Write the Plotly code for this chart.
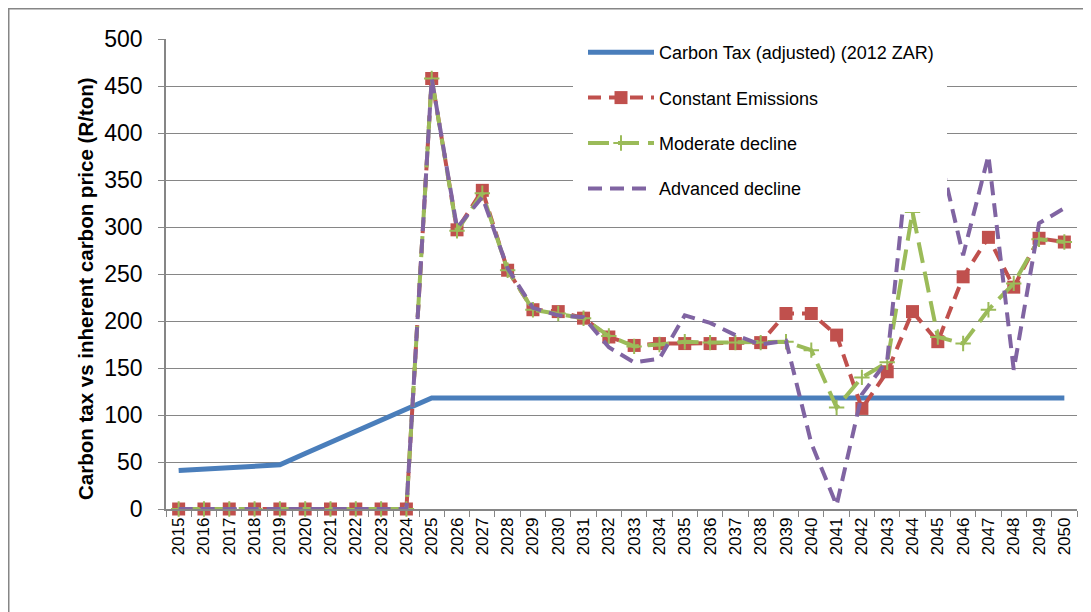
import plotly.graph_objects as go

years = ["2015", "2016", "2017", "2018", "2019", "2020", "2021", "2022", "2023", "2024",
         "2025", "2026", "2027", "2028", "2029", "2030", "2031", "2032", "2033", "2034",
         "2035", "2036", "2037", "2038", "2039", "2040", "2041", "2042", "2043", "2044",
         "2045", "2046", "2047", "2048", "2049", "2050"]

carbon_tax = [41, 42.5, 44, 45.5, 47, 59, 71, 83, 95, 107,
              118, 118, 118, 118, 118, 118, 118, 118, 118, 118,
              118, 118, 118, 118, 118, 118, 118, 118, 118, 118,
              118, 118, 118, 118, 118, 118]

constant_emissions = [0, 0, 0, 0, 0, 0, 0, 0, 0, 0,
                      458, 297, 339, 254, 212, 210, 203, 183, 174, 176,
                      176, 176, 176, 177, 208, 208, 185, 107, 146, 210,
                      178, 247, 289, 236, 288, 284]

moderate_decline = [0, 0, 0, 0, 0, 0, 0, 0, 0, 0,
                    458, 296, 336, 254, 212, 208, 203, 184, 173, 175,
                    178, 177, 177, 177, 178, 169, 108, 140, 156, 316,
                    183, 176, 212, 240, 287, 284]

advanced_decline = [0, 0, 0, 0, 0, 0, 0, 0, 0, 0,
                    458, 299, 332, 256, 214, 206, 204, 172, 156, 160,
                    206, 198, 185, 175, 179, 70, 4, 122, 158, 420,
                    385, 270, 376, 148, 304, 320]

y_ticks = [0, 50, 100, 150, 200, 250, 300, 350, 400, 450, 500]

FONT = "Liberation Sans"
# The page body adds an 8px offset; the figure is sized to fill the rest.
OX, OY = 8, 8
W, H = 1091 - OX, 612 - OY
# plot area in window pixels
L, R, T, B = 166, 1077, 39, 509

fig = go.Figure()

fig.add_trace(go.Scatter(
    x=years, y=carbon_tax, name="Carbon Tax (adjusted) (2012 ZAR)",
    mode="lines", line=dict(color="#4A7EBB", width=5),
    legendgroup="a", cliponaxis=False))

fig.add_trace(go.Scatter(
    x=years, y=constant_emissions, name="Constant Emissions",
    mode="lines+markers", line=dict(color="#C0504D", width=4, dash="13px,8px"),
    marker=dict(symbol="square", size=13, color="#C0504D"),
    legendgroup="b", cliponaxis=False))

fig.add_trace(go.Scatter(
    x=years, y=moderate_decline, name="Moderate decline",
    mode="lines+markers", line=dict(color="#9BBB59", width=4, dash="21px,9px"),
    marker=dict(symbol="cross-thin", size=11, color="#9BBB59",
                line=dict(color="#9BBB59", width=2)),
    legendgroup="c", cliponaxis=False))

fig.add_trace(go.Scatter(
    x=years, y=advanced_decline, name="Advanced decline",
    mode="lines", line=dict(color="#8064A2", width=4, dash="14px,8px"),
    legendgroup="d", cliponaxis=False))


def px(xp):
    return (xp - L) / (R - L)


def py(yp):
    return (B - yp) / (B - T)


fig.update_layout(
    width=W, height=H,
    margin=dict(l=L - OX, r=W + OX - R, t=T - OY, b=H + OY - B),
    paper_bgcolor="white", plot_bgcolor="white",
    font=dict(family=FONT, color="black"),
    showlegend=True,
    legend=dict(
        x=px(583), y=py(34), xanchor="left", yanchor="top",
        bgcolor="white", borderwidth=0,
        font=dict(family=FONT, size=18, color="black"),
        tracegroupgap=19, itemwidth=66,
        traceorder="grouped",
    ),
    xaxis=dict(
        type="category", range=[-0.5, 35.5],
        tickmode="array", tickvals=years, ticktext=years,
        tickangle=-90, tickson="boundaries",
        ticks="outside", ticklen=6, tickcolor="#868686",
        showline=True, linecolor="#868686", linewidth=1.5,
        showgrid=False, zeroline=False,
        tickfont=dict(family=FONT, size=17, color="black"),
    ),
    yaxis=dict(
        range=[0, 500], tickmode="array", tickvals=y_ticks,
        ticks="outside", ticklen=6, tickcolor="#868686",
        showline=True, linecolor="#868686", linewidth=1.5,
        showgrid=True, gridcolor="#868686", gridwidth=1,
        zeroline=False, ticklabelstandoff=11,
        tickfont=dict(family=FONT, size=23, color="black"),
    ),
    annotations=[dict(
        text="<b>Carbon tax vs inherent carbon price (R/ton)</b>",
        x=px(85), y=py(289), xref="paper", yref="paper",
        xanchor="center", yanchor="middle",
        textangle=-90, showarrow=False,
        font=dict(family=FONT, size=20.5, color="black"),
    )],
    shapes=[
        dict(
            type="rect", xref="paper", yref="paper",
            x0=px(8.75), x1=px(1084), y0=py(640), y1=py(8.75),
            line=dict(color="#868686", width=1.5), fillcolor="rgba(0,0,0,0)",
            layer="below",
        ),
        dict(
            type="rect", xref="paper", yref="paper",
            x0=px(573), x1=px(947), y0=py(212), y1=py(29),
            line=dict(width=0), fillcolor="white",
            layer="above",
        ),
    ],
)

fig.write_html("out.html")
